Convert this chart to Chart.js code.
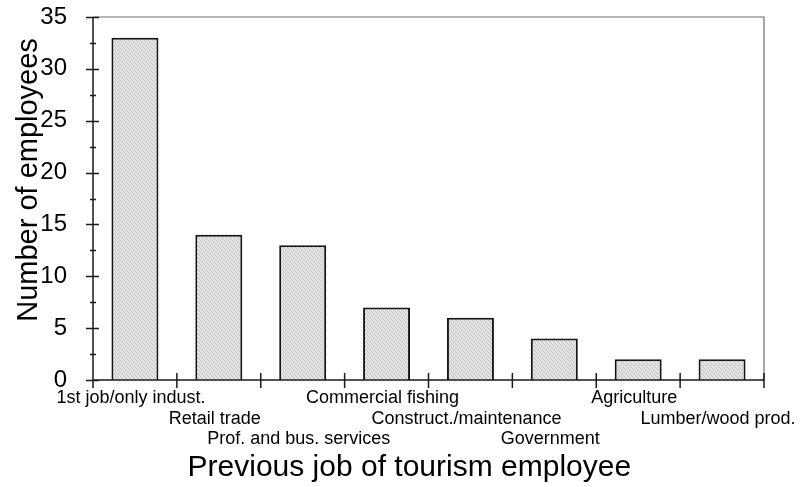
<!DOCTYPE html>
<html><head><meta charset="utf-8">
<script src="https://cdn.jsdelivr.net/npm/chart.js@4/dist/chart.umd.min.js"></script>
<style>html,body{margin:0;padding:0;background:#fff;}</style>
</head><body>
<canvas id="c" width="803" height="487"></canvas>
<script>
const categories = ["1st job/only indust.", "Retail trade", "Prof. and bus. services", "Commercial fishing",
  "Construct./maintenance", "Government", "Agriculture", "Lumber/wood prod."];
const employees = [33, 14, 13, 7, 6, 4, 2, 2];
const yMin = 0, yMax = 35, yStep = 5, yMinorStep = 2.5;
const xTitle = "Previous job of tourism employee";
const yTitle = "Number of employees";

// staggered labels: three rows
const staggered = categories.map((c, i) => { const arr = []; for (let k = 0; k < i % 3; k++) arr.push(""); arr.push(c); return arr; });

function stipple() {
  const p = document.createElement('canvas'); p.width = 4; p.height = 4;
  const g = p.getContext('2d');
  g.fillStyle = '#e2e2e2'; g.fillRect(0, 0, 4, 4);
  g.fillStyle = '#bdbdbd';
  [[0,0],[2,1],[1,2],[3,3]].forEach(([a,b]) => g.fillRect(a, b, 1, 1));
  g.fillStyle = '#f0f0f0';
  [[2,3],[0,2]].forEach(([a,b]) => g.fillRect(a, b, 1, 1));
  return document.getElementById('c').getContext('2d').createPattern(p, 'repeat');
}

const axisMarks = {
  id: 'axisMarks',
  afterDraw(chart) {
    const {ctx, chartArea: a, scales: {x, y}} = chart;
    ctx.save();
    ctx.strokeStyle = '#6e6e6e'; ctx.lineWidth = 1.2;
    ctx.beginPath(); ctx.moveTo(a.left, a.top); ctx.lineTo(a.right, a.top); ctx.lineTo(a.right, a.bottom); ctx.stroke();
    ctx.strokeStyle = '#1a1a1a'; ctx.lineWidth = 1.5;
    ctx.beginPath();
    ctx.moveTo(a.left, a.top); ctx.lineTo(a.left, a.bottom + 7);
    ctx.moveTo(a.left, a.bottom); ctx.lineTo(a.right, a.bottom);
    for (let v = y.min; v <= y.max + 1e-9; v += yMinorStep) {
      const py = Math.round(y.getPixelForValue(v)) + 0.5;
      const major = Math.abs(v / yStep - Math.round(v / yStep)) < 1e-6;
      ctx.moveTo(a.left - (major ? 7 : 3), py); ctx.lineTo(a.left + (major ? 6 : 3), py);
    }
    for (let i = 0; i <= categories.length; i++) {
      const px = x.getPixelForValue(i - 0.5);
      ctx.moveTo(px, a.bottom - 7); ctx.lineTo(px, a.bottom + 8);
    }
    ctx.stroke();
    ctx.restore();
  }
};

const font = "'Liberation Sans', Arial, sans-serif";
new Chart(document.getElementById('c'), {
  type: 'bar',
  data: {
    labels: staggered,
    datasets: [{
      data: employees,
      backgroundColor: stipple(),
      borderColor: '#151515',
      borderWidth: 2,
      borderSkipped: 'bottom',
      barPercentage: 1,
      categoryPercentage: 0.56
    }]
  },
  options: {
    responsive: false,
    animation: false,
    devicePixelRatio: 1,
    layout: { padding: { top: 17, right: 39, bottom: 0, left: 0 } },
    plugins: { legend: { display: false }, tooltip: { enabled: false } },
    scales: {
      x: {
        grid: { display: false }, border: { display: false },
        ticks: { color: '#000', font: { family: font, size: 18, lineHeight: 1.14 }, padding: 0, labelOffset: -4,
          autoSkip: false, maxRotation: 0, minRotation: 0 },
        title: { display: true, text: xTitle + '\u2002\u2002\u00A0', color: '#000',
          font: { family: font, size: 30, lineHeight: 1.2 }, padding: { top: 0, bottom: 1 } },
        afterFit(s) { s.height = 107; s.paddingLeft = 0; s.paddingRight = 0; }
      },
      y: {
        min: yMin, max: yMax,
        grid: { display: false }, border: { display: false },
        ticks: { stepSize: yStep, color: '#000', font: { family: font, size: 24 }, padding: 18 },
        title: { display: true, text: '\u2002\u2002\u00A0' + yTitle, color: '#000',
          font: { family: font, size: 29, lineHeight: 1.2 }, padding: { top: 12, bottom: 0 } },
        afterFit(s) { s.width = 93; s.paddingTop = 0; s.paddingBottom = 0; }
      }
    }
  },
  plugins: [axisMarks]
});
</script>
</body></html>
